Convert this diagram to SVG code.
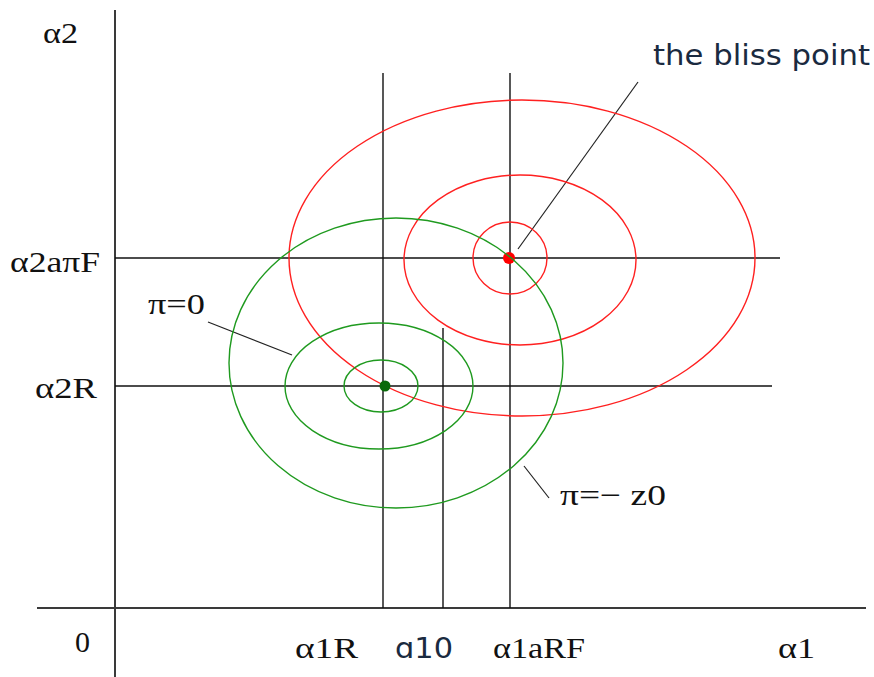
<svg xmlns="http://www.w3.org/2000/svg" width="874" height="677" viewBox="0 0 874 677">
<style>
.ax{stroke:#3a3a3a;stroke-width:2;fill:none}
.ln{stroke:#111;stroke-width:1.4;fill:none}
.red{stroke:#ff2020;stroke-width:1.4;fill:none}
.grn{stroke:#1f9a1f;stroke-width:1.4;fill:none}
.lead{stroke:#222;stroke-width:1.2;fill:none}
.t{font-family:"Liberation Serif",serif;font-size:30px;fill:#111}
.s{font-family:"DejaVu Sans","Noto Sans",sans-serif;font-size:29px;fill:#1a2a40}
</style>
<rect width="874" height="677" fill="#fff"/>
<g id="connectors">
<line class="ax" x1="115" y1="10" x2="115" y2="677"/>
<line class="ax" x1="37" y1="608" x2="866" y2="608"/>
<line class="ln" x1="115" y1="258" x2="780" y2="258"/>
<line class="ln" x1="115" y1="386" x2="772" y2="386"/>
<line class="ln" x1="383" y1="73" x2="383" y2="608"/>
<line class="ln" x1="443" y1="328" x2="443" y2="608"/>
<line class="ln" x1="510" y1="73" x2="510" y2="608"/>
<line class="lead" x1="208" y1="322" x2="292" y2="355"/>
<line class="lead" x1="638" y1="82" x2="518" y2="249"/>
<line class="lead" x1="524" y1="466" x2="549" y2="498"/>
</g>
<g id="red-contours">
<ellipse class="red" cx="522" cy="258" rx="233" ry="158"/>
<ellipse class="red" cx="520" cy="260" rx="116" ry="85"/>
<ellipse class="red" cx="510" cy="258" rx="37" ry="36"/>
<circle cx="509" cy="258" r="6" fill="#ff0000"/>
</g>
<g id="green-contours">
<ellipse class="grn" cx="396" cy="363" rx="167" ry="145"/>
<ellipse class="grn" cx="379" cy="386" rx="94" ry="63"/>
<ellipse class="grn" cx="381" cy="386" rx="37" ry="26"/>
<circle cx="385" cy="386" r="5.5" fill="#0a6a0a"/>
</g>
<g id="labels">
<text class="t" x="43" y="43" textLength="35" lengthAdjust="spacingAndGlyphs">α2</text>
<text class="t" x="10" y="272" textLength="90" lengthAdjust="spacingAndGlyphs">α2aπF</text>
<text class="t" x="148" y="314" textLength="57" lengthAdjust="spacingAndGlyphs">π=0</text>
<text class="t" x="35" y="398" textLength="62" lengthAdjust="spacingAndGlyphs">α2R</text>
<text class="t" x="75" y="652" textLength="15" lengthAdjust="spacingAndGlyphs">0</text>
<text class="t" x="295" y="658" textLength="63" lengthAdjust="spacingAndGlyphs">α1R</text>
<text class="s" x="395" y="658" textLength="58" lengthAdjust="spacingAndGlyphs">ɑ10</text>
<text class="t" x="493" y="658" textLength="92" lengthAdjust="spacingAndGlyphs">α1aRF</text>
<text class="t" x="778" y="658" textLength="37" lengthAdjust="spacingAndGlyphs">α1</text>
<text class="t" x="560" y="505" textLength="106" lengthAdjust="spacingAndGlyphs">π=− z0</text>
<text class="s" x="653" y="65" textLength="217" lengthAdjust="spacingAndGlyphs">the bliss point</text>
</g>
</svg>
